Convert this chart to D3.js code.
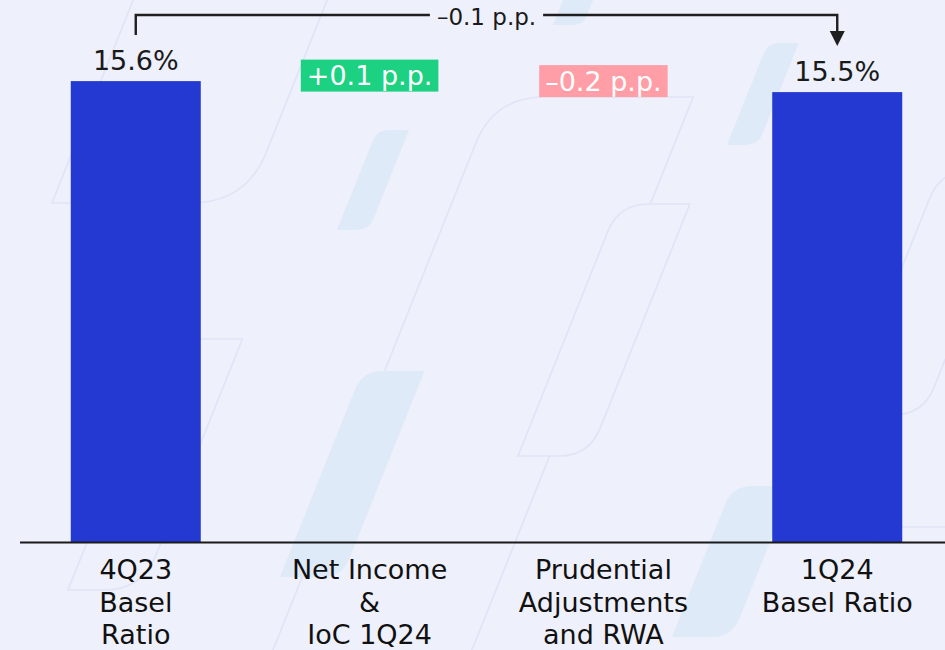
<!DOCTYPE html>
<html>
<head>
<meta charset="utf-8">
<script src="https://cdn.jsdelivr.net/npm/d3@7"></script>
<style>
  html, body { margin: 0; padding: 0; background: #eef0fb; }
  svg { display: block; }
  text { font-family: "DejaVu Sans", "Noto Sans", sans-serif; }
</style>
</head>
<body>
<svg id="chart" width="945" height="650"></svg>
<script>
// Capital bridge: Basel ratio 4Q23 -> 1Q24
const categories = ["4Q23 Basel Ratio", "Net Income & IoC 1Q24", "Prudential Adjustments and RWA", "1Q24 Basel Ratio"];
const categoryLines = [
  ["4Q23", "Basel", "Ratio"],
  ["Net Income", "&", "IoC 1Q24"],
  ["Prudential", "Adjustments", "and RWA"],
  ["1Q24", "Basel Ratio"]
];
const stepKinds = ["total", "delta", "delta", "total"];
const stepValues = [15.6, 0.1, -0.2, 15.5];
const stepLabels = ["15.6%", "+0.1 p.p.", "\u20130.2 p.p.", "15.5%"];
const bridgeLabel = "\u20130.1 p.p.";

const W = 945, H = 650;
const svg = d3.select("#chart");

svg.append("rect").attr("width", W).attr("height", H).attr("fill", "#eef0fb");

// ---- background motif: slanted rounded parallelograms ----
function slantPath(t, b, blx, w, r, s = 0.4) {
  const h = b - t;
  const BL = [blx, b], BR = [blx + w, b];
  const TR = [blx + w + s * h, t], TL = [blx + s * h, t];
  const len = Math.sqrt(1 + s * s);
  const ux = -s / len, uy = 1 / len; // unit vector down the slanted edge
  const p = d3.path();
  p.moveTo(TL[0] + r, t);
  p.lineTo(TR[0], TR[1]);
  p.lineTo(BR[0] - ux * r, BR[1] - uy * r);
  p.quadraticCurveTo(BR[0], BR[1], BR[0] - r, BR[1]);
  p.lineTo(BL[0], BL[1]);
  p.lineTo(TL[0] + ux * r, TL[1] + uy * r);
  p.quadraticCurveTo(TL[0], TL[1], TL[0] + r, TL[1]);
  p.closePath();
  return p.toString();
}

const decor = svg.append("g");
const outlineShapes = [
  { t: -60, b: 203, blx: 52, w: 194, r: 55 },
  { t: 97, b: 690, blx: 257, w: 199, r: 50 },
  { t: 339, b: 590, blx: 68, w: 74, r: 38 },
  { t: 204, b: 456, blx: 518, w: 71, r: 30 },
  { t: 170, b: 415, blx: 843, w: 80, r: 30 },
  { t: 527, b: 543, blx: 874, w: 150, r: 4 }
];
const filledShapes = [
  { t: -40, b: 25, blx: 553, w: 30, r: 10 },
  { t: 43, b: 145, blx: 727, w: 31, r: 12 },
  { t: 130, b: 230, blx: 337, w: 32, r: 12 },
  { t: 371, b: 577, blx: 280, w: 62, r: 20 },
  { t: 486, b: 637, blx: 672, w: 60, r: 20 }
];
decor.selectAll("path.outline").data(outlineShapes).join("path")
  .attr("class", "outline")
  .attr("d", d => slantPath(d.t, d.b, d.blx, d.w, d.r))
  .attr("fill", "#eef0fb")
  .attr("stroke", "#e1e3f7")
  .attr("stroke-width", 1.6);
decor.selectAll("path.filled").data(filledShapes).join("path")
  .attr("class", "filled")
  .attr("d", d => slantPath(d.t, d.b, d.blx, d.w, d.r))
  .attr("fill", "#dfeaf8");

// ---- scales ----
const x = d3.scaleBand()
  .domain(categories)
  .range([24, 949])
  .paddingInner(0.444)
  .paddingOuter(0.2);

const y = d3.scaleLinear()
  .domain([11.41, 16.31])
  .range([542, 3]);

// running levels for the waterfall
let level = 0;
const steps = categories.map((c, i) => {
  let lo, hi;
  if (stepKinds[i] === "total") {
    level = stepValues[i];
    lo = y.domain()[0]; hi = level;
  } else {
    const start = level;
    level = start + stepValues[i];
    lo = Math.min(start, level); hi = Math.max(start, level);
  }
  return { cat: c, kind: stepKinds[i], value: stepValues[i], lo, hi, label: stepLabels[i] };
});

// ---- total bars ----
const totals = steps.filter(d => d.kind === "total");
svg.append("g").selectAll("rect").data(totals).join("rect")
  .attr("x", d => x(d.cat))
  .attr("width", x.bandwidth())
  .attr("y", d => y(d.hi))
  .attr("height", d => y(d.lo) - y(d.hi))
  .attr("fill", "#2339d1");

svg.append("g").selectAll("text").data(totals).join("text")
  .attr("x", d => x(d.cat) + x.bandwidth() / 2)
  .attr("y", d => y(d.hi) - 11)
  .attr("text-anchor", "middle")
  .attr("font-size", 27)
  .attr("fill", "#1a1a1a")
  .text(d => d.label);

// ---- delta labels, boxed, centred on the step ----
const deltas = steps.filter(d => d.kind === "delta");
const dg = svg.append("g").selectAll("g").data(deltas).join("g")
  .attr("transform", d => `translate(${x(d.cat) + x.bandwidth() / 2},${y((d.lo + d.hi) / 2)})`);
const boxes = dg.append("rect")
  .attr("fill", d => d.value >= 0 ? "#1dd182" : "#ff9ea6");
const dtext = dg.append("text")
  .attr("text-anchor", "middle")
  .attr("y", 9.5)
  .attr("font-size", 27)
  .attr("fill", "#ffffff")
  .text(d => d.label);
dtext.each(function (d) { d.tw = this.getComputedTextLength(); });
boxes
  .attr("x", d => -d.tw / 2 - 6)
  .attr("width", d => d.tw + 12)
  .attr("y", -16)
  .attr("height", 32);

// ---- category axis ----
const axis = svg.append("g")
  .attr("transform", "translate(0,542)")
  .call(d3.axisBottom(x).tickSize(0));
axis.select(".domain").remove();
axis.selectAll(".tick text")
  .attr("y", null).attr("dy", null)
  .attr("font-size", 27)
  .attr("font-family", "DejaVu Sans, sans-serif")
  .attr("fill", "#111")
  .text(null)
  .each(function (c) {
    const lines = categoryLines[categories.indexOf(c)];
    d3.select(this).selectAll("tspan").data(lines).join("tspan")
      .attr("x", 0)
      .attr("y", (l, i) => 37 + i * 32.5)
      .text(l => l);
  });
svg.append("line")
  .attr("x1", 20).attr("x2", W)
  .attr("y1", 542.5).attr("y2", 542.5)
  .attr("stroke", "#1a1a1a")
  .attr("stroke-width", 2.2);

// ---- bridge annotation from first to last total ----
const xa = x(categories[0]) + x.bandwidth() / 2;
const xb = x(categories[categories.length - 1]) + x.bandwidth() / 2;
const xm = (xa + xb) / 2;
const bridge = svg.append("g");
const bt = bridge.append("text")
  .attr("x", xm).attr("y", 25)
  .attr("text-anchor", "middle")
  .attr("font-size", 23)
  .attr("fill", "#1a1a1a")
  .text(bridgeLabel);
const half = bt.node().getComputedTextLength() / 2 + 7;
bridge.append("path")
  .attr("d", `M${xa},35V15H${xm - half}M${xm + half},15H${xb}V33`)
  .attr("fill", "none")
  .attr("stroke", "#1f1f1f")
  .attr("stroke-width", 2.4);
bridge.append("path")
  .attr("d", `M${xb - 7.5},31L${xb + 7.5},31L${xb},46Z`)
  .attr("fill", "#1f1f1f");
</script>
</body>
</html>
